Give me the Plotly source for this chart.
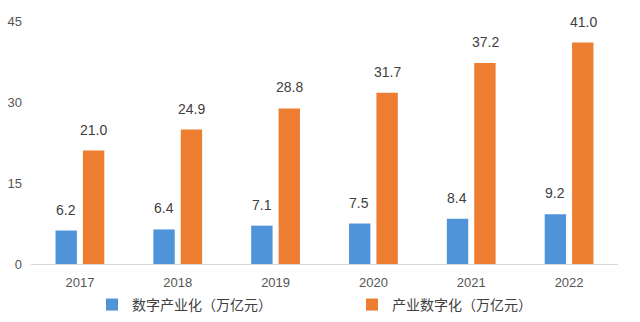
import plotly.graph_objects as go

years = ["2017", "2018", "2019", "2020", "2021", "2022"]
digital_industry = [6.2, 6.4, 7.1, 7.5, 8.4, 9.2]
industry_digital = [21.0, 24.9, 28.8, 31.7, 37.2, 41.0]
series_names = ["数字产业化（万亿元）", "产业数字化（万亿元）"]
y_ticks = [0, 15, 30, 45]

BLUE = "#4f93d9"
ORANGE = "#ed7d31"
FONT = "Liberation Sans, Noto Sans CJK SC, sans-serif"

fig = go.Figure()
fig.add_trace(go.Bar(x=years, y=digital_industry, name=series_names[0],
                     marker=dict(color=BLUE, line=dict(width=0)), legend="legend"))
fig.add_trace(go.Bar(x=years, y=industry_digital, name=series_names[1],
                     marker=dict(color=ORANGE, line=dict(width=0)), legend="legend2"))

annotations = []
for vals, shift in ((digital_industry, -14), (industry_digital, 14)):
    for i, v in enumerate(vals):
        annotations.append(dict(
            x=i, y=v, xref="x", yref="y", text=f"{v:.1f}", showarrow=False,
            xshift=shift, yshift=11, yanchor="bottom",
            font=dict(family=FONT, size=14, color="#404040")))

legend_common = dict(orientation="h", xanchor="left", yref="container", y=0.053,
                     yanchor="middle", xref="container",
                     font=dict(family=FONT, size=14, color="#404040"),
                     bgcolor="rgba(0,0,0,0)")

fig.update_layout(
    width=640, height=322,
    margin=dict(l=31, r=22, t=21, b=58, autoexpand=False),
    paper_bgcolor="white", plot_bgcolor="white",
    barmode="group", bargap=0.44, bargroupgap=0.22,
    font=dict(family=FONT, size=13, color="#555555"),
    showlegend=True,
    legend=dict(x=92 / 640, **legend_common),
    legend2=dict(x=352 / 640, **legend_common),
    annotations=annotations,
    xaxis=dict(type="category", range=[-0.5, 5.5], showgrid=False, showline=True,
               linecolor="#d9d9d9", linewidth=1, ticks="", ticklabelstandoff=6,
               tickfont=dict(family=FONT, size=13, color="#555555")),
    yaxis=dict(range=[0, 45], tickvals=y_ticks, showgrid=False, zeroline=False,
               showline=False, ticks="", ticklabelstandoff=8,
               tickfont=dict(family=FONT, size=13, color="#555555")),
)

fig.write_html("out.html")
